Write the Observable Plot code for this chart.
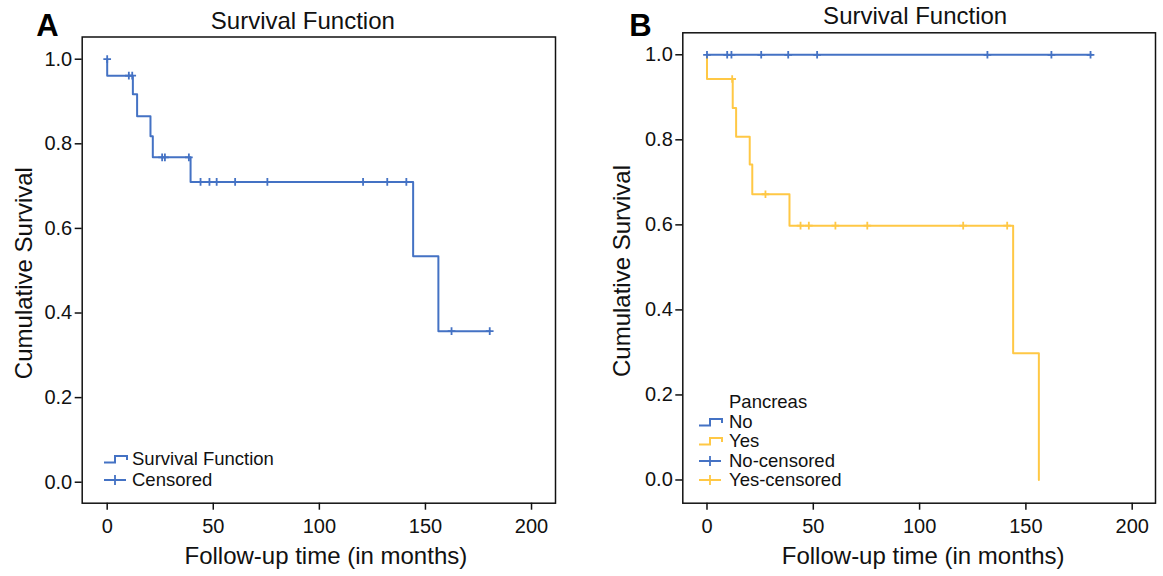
<!DOCTYPE html>
<html>
<head>
<meta charset="utf-8">
<script src="https://cdn.jsdelivr.net/npm/d3@7"></script>
<script src="https://cdn.jsdelivr.net/npm/@observablehq/plot@0.6"></script>
<style>
  body { margin: 0; background: #fff; font-family: "Liberation Sans", Arial, Helvetica, sans-serif; }
  #wrap { position: relative; width: 1163px; height: 576px; overflow: hidden; background: #fff; }
  .panel { position: absolute; top: 0; }
  .leg { position: absolute; font-size: 18.5px; color: #111; white-space: nowrap; z-index: 5; }
  .leg .row { display: flex; align-items: center; }
  .leg svg { display: block; flex: none; }
</style>
</head>
<body>
<div id="wrap"></div>
<script>
// ---------- data ----------
const xTicks = [0, 50, 100, 150, 200];
const yTicks = [0, 0.2, 0.4, 0.6, 0.8, 1.0];

// Panel A: overall survival function
const aTime = [0, 0, 12.1, 14.1, 20.4, 21.5, 39.3, 144.2, 156.1, 180.5];
const aSurv = [1.0, 0.961, 0.917, 0.865, 0.818, 0.768, 0.710, 0.534, 0.357, 0.357];
const aCensTime = [0, 10.2, 11.8, 25.9, 27.2, 38.5, 44.0, 48.2, 51.6, 60.3, 75.5, 120.6, 132.0, 141.0, 162.3, 180.3];
const aCensSurv = [1.0, 0.961, 0.961, 0.768, 0.768, 0.768, 0.710, 0.710, 0.710, 0.710, 0.710, 0.710, 0.710, 0.710, 0.357, 0.357];

// Panel B: by Pancreas (No / Yes)
const noTime = [0, 181];
const noSurv = [1.0, 1.0];
const noCensTime = [0, 9.5, 11.5, 25.5, 38.2, 51.8, 131.9, 162.0, 180.4];
const noCensSurv = [1, 1, 1, 1, 1, 1, 1, 1, 1];
const yesTime = [0, 0, 12.1, 13.7, 20.1, 21.3, 38.8, 144.0, 156.1];
const yesSurv = [1.0, 0.943, 0.875, 0.807, 0.742, 0.672, 0.598, 0.298, 0.0];
const yesCensTime = [11.85, 27.5, 44.0, 47.9, 60.4, 75.4, 120.5, 141.2];
const yesCensSurv = [0.943, 0.672, 0.598, 0.598, 0.598, 0.598, 0.598, 0.598];

const titles = ["Survival Function", "Survival Function"];
const letters = ["A", "B"];
const xLabel = "Follow-up time (in months)";
const yLabel = "Cumulative Survival";
const legendA = ["Survival Function", "Censored"];
const legendBTitle = "Pancreas";
const legendB = ["No", "Yes", "No-censored", "Yes-censored"];

const BLUE = "#4472C4";
const YELLOW = "#FFC845";
const INK = "#111";

// ---------- helpers ----------
const zip = (t, s, g) => t.map((d, i) => ({t: d, s: s[i], g}));

function makePanel(o) {
  return Plot.plot({
    width: o.width,
    height: 576,
    marginLeft: o.ml, marginRight: o.mr, marginTop: o.mt, marginBottom: o.mb,
    style: {fontFamily: '"Liberation Sans", Arial, Helvetica, sans-serif', fontSize: "20px", color: INK, background: "transparent"},
    x: {domain: o.xd, ticks: xTicks},
    y: {domain: o.yd, ticks: yTicks},
    marks: [
      Plot.frame({stroke: INK, strokeWidth: 1.5}),
      Plot.axisX({ticks: xTicks, tickSize: 7, tickPadding: 9, strokeWidth: 1.5, label: null, fontSize: 20}),
      Plot.axisY({ticks: yTicks, tickSize: 7, tickPadding: 3, strokeWidth: 1.5, tickFormat: d3.format(".1f"), label: null, fontSize: 20}),
      ...o.lines.map(L => Plot.line(L.data, {x: "t", y: "s", curve: "step-after", stroke: L.color, strokeWidth: 2})),
      ...o.cens.map(C => Plot.dot(C.data, {x: "t", y: "s", symbol: "plus", r: 2.6, stroke: C.color, strokeWidth: 1.8})),
      Plot.text([o.title], {frameAnchor: "top", lineAnchor: "middle", dx: o.titleDx, dy: -16, fontSize: 24, fill: INK}),
      Plot.text([o.letter], {frameAnchor: "top-left", lineAnchor: "middle", textAnchor: "middle", dx: o.letterDx, dy: o.letterDy, fontSize: 31, fontWeight: "bold", fill: "#000"}),
      Plot.text([xLabel], {frameAnchor: "bottom", lineAnchor: "middle", dx: o.xlDx, dy: 53, fontSize: 24, fill: INK}),
      Plot.text([yLabel], {frameAnchor: "left", lineAnchor: "middle", textAnchor: "middle", rotate: -90, dx: o.ylDx, dy: 3, fontSize: 24, fill: INK})
    ]
  });
}

const wrap = document.getElementById("wrap");

// Panel A
const pA = makePanel({
  width: 590, ml: 81.7, mr: 35, mt: 36.5, mb: 73.3,
  xd: [-11.78, 211.3], yd: [-0.0496, 1.0525],
  lines: [{data: zip(aTime, aSurv, "A"), color: BLUE}],
  cens: [{data: zip(aCensTime, aCensSurv, "A"), color: BLUE}],
  title: titles[0], letter: letters[0],
  titleDx: -16, letterDx: -34.7, letterDy: -11, xlDx: 7, ylDx: -57.7
});
const dA = document.createElement("div");
dA.className = "panel"; dA.style.left = "0px"; dA.appendChild(pA);
wrap.appendChild(dA);

// Panel B
const pB = makePanel({
  width: 573, ml: 92.3, mr: 8, mt: 32.3, mb: 73.3,
  xd: [-11.38, 210.96], yd: [-0.0546, 1.0517],
  lines: [{data: zip(yesTime, yesSurv, "Yes"), color: YELLOW}, {data: zip(noTime, noSurv, "No"), color: BLUE}],
  cens: [{data: zip(noCensTime, noCensSurv, "No"), color: BLUE}, {data: zip(yesCensTime, yesCensSurv, "Yes"), color: YELLOW}],
  title: titles[1], letter: letters[1],
  titleDx: -4, letterDx: -42.3, letterDy: -7, xlDx: 4, ylDx: -60.3
});
const dB = document.createElement("div");
dB.className = "panel"; dB.style.left = "590px"; dB.appendChild(pB);
wrap.appendChild(dB);

// ---------- legends ----------
const stepIcon = c => `<svg width="26" height="12"><path d="M1,9.5H12V3H24V7" stroke="${c}" stroke-width="2" fill="none"/></svg>`;
const plusIcon = c => `<svg width="26" height="12"><path d="M1,6H23M12,1V11" stroke="${c}" stroke-width="1.8" fill="none"/></svg>`;

function legend(left, top, rowH, gap, title, items) {
  const d = document.createElement("div");
  d.className = "leg";
  d.style.left = left + "px"; d.style.top = top + "px";
  let html = "";
  if (title) html += `<div class="row" style="height:${rowH}px;padding-left:${26 + gap}px">${title}</div>`;
  for (const it of items) {
    html += `<div class="row" style="height:${rowH}px">${it.icon}<span style="margin-left:${gap}px">${it.label}</span></div>`;
  }
  d.innerHTML = html;
  wrap.appendChild(d);
}

legend(103, 448.5, 21, 3, null, [
  {icon: stepIcon(BLUE), label: legendA[0]},
  {icon: plusIcon(BLUE), label: legendA[1]}
]);
legend(698, 392.3, 19.5, 5, legendBTitle, [
  {icon: stepIcon(BLUE), label: legendB[0]},
  {icon: stepIcon(YELLOW), label: legendB[1]},
  {icon: plusIcon(BLUE), label: legendB[2]},
  {icon: plusIcon(YELLOW), label: legendB[3]}
]);
</script>
</body>
</html>
